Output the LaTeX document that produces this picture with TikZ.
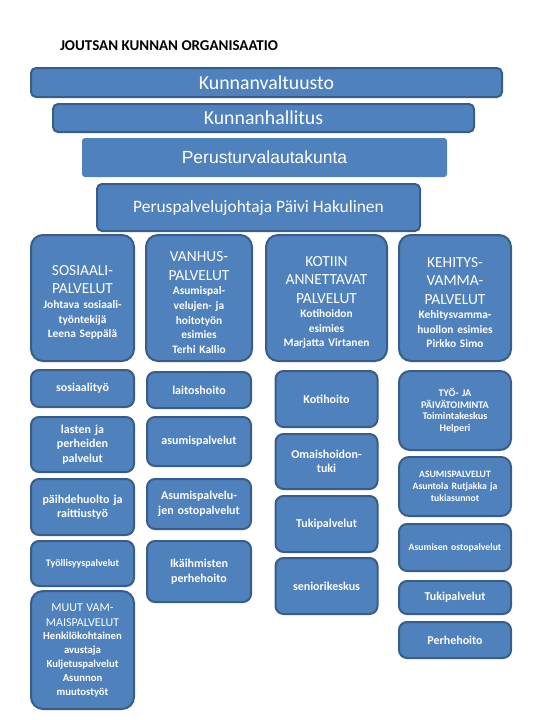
\documentclass[tikz,border=0pt]{standalone}
\usepackage{fontspec}
\setmainfont{Carlito}
\newfontfamily\arialfont{Liberation Sans}
\usetikzlibrary{positioning}
\definecolor{boxblue}{RGB}{79,129,189}
\definecolor{boxline}{RGB}{56,93,138}
\newcommand\hdf{\fontsize{15.4}{18.5}\selectfont\mdseries}
\newcommand\smf{\fontsize{11.4}{14.6}\selectfont\bfseries}
\newcommand\mcap{\fontsize{12}{15}\selectfont\mdseries}
\newcommand\msub{\fontsize{10.7}{13.8}\selectfont\bfseries}

\begin{document}
\begin{tikzpicture}[x=1pt,y=-1pt,
    box/.style={rectangle,draw=boxline,line width=2pt,fill=boxblue,text=white,rounded corners=5pt,inner sep=1pt,align=center},
    top/.style={box,font=\fontsize{19.8}{22}\selectfont},
    head/.style={box,rounded corners=12pt,minimum height=126pt,font=\smf,execute at begin node={\rule{0pt}{19pt}}},
    item/.style={box,rounded corners=8pt,font=\fontsize{12}{14.5}\selectfont\bfseries},
    c1/.style={item,minimum width=103pt,text width=101pt},
    c2/.style={item,minimum width=104pt,text width=102pt},
    c3/.style={item,minimum width=102pt,text width=100pt},
    c4/.style={item,minimum width=112pt,text width=110pt},
]
\useasboundingbox (0,0) rectangle (540,720);

\node[font=\fontsize{15}{17}\selectfont\bfseries] (title) at (169,46) {JOUTSAN KUNNAN ORGANISAATIO};

\node[top,minimum width=471pt,minimum height=29pt] (valt) at (266.5,82.5) {Kunnanvaltuusto};
\node[top,minimum width=421pt,minimum height=28pt] (hall) at (263.5,118) {Kunnanhallitus};
\node[box,draw=none,rounded corners=3pt,minimum width=365pt,minimum height=39pt,font=\arialfont\fontsize{17.5}{20}\selectfont] (ptl) at (264.5,157.5) {Perusturvalautakunta};
\node[box,minimum width=323pt,minimum height=47pt,font=\fontsize{17.4}{20}\selectfont] (johtaja) at (258.5,207.5) {Peruspalvelujohtaja Päivi Hakulinen};

\node[head,minimum width=103pt,text width=101pt] (sos) at (82.5,298) {\hdf SOSIAALI-\\\hdf PALVELUT\\\smf Johtava sosiaali-\\työntekijä\\Leena Seppälä};
\node[head,minimum width=106pt,text width=104pt] (van) at (199,298) {\hdf VANHUS-\\\hdf PALVELUT\\\smf Asumispal-\\velujen- ja\\hoitotyön\\esimies\\Terhi Kallio};
\node[head,minimum width=121pt,text width=119pt] (koti) at (326.5,298) {\hdf KOTIIN\\\hdf ANNETTAVAT\\\hdf PALVELUT\\\smf Kotihoidon\\esimies\\Marjatta Virtanen};
\node[head,minimum width=112pt,text width=110pt] (keh) at (455,298) {\hdf KEHITYS-\\\hdf VAMMA-\\\hdf PALVELUT\\\smf Kehitysvamma-\\huollon esimies\\Pirkko Simo};

\node[c1,minimum height=37pt,below=7pt of sos] (s1) {sosiaalityö};
\node[c1,minimum height=55pt,below=8pt of s1] (s2) {lasten ja\\perheiden\\palvelut};
\node[c1,minimum height=56pt,below=5pt of s2] (s3) {päihdehuolto ja\\raittiustyö};
\node[c1,minimum height=45pt,below=4pt of s3,font=\fontsize{10}{12}\selectfont\bfseries] (s4) {Työllisyyspalvelut};
\node[c1,rounded corners=12pt,minimum height=118pt,below=3pt of s4,font=\msub] (s5) {\mcap MUUT VAM-\\\mcap MAISPALVELUT\\\msub Henkilökohtainen\\avustaja\\Kuljetuspalvelut\\Asunnon\\muutostyöt};

\node[c2,minimum height=36pt,below=9pt of van] (v1) {laitoshoito};
\node[c2,minimum height=49pt,below=7pt of v1] (v2) {asumispalvelut};
\node[c2,minimum height=50pt,below=11pt of v2] (v3) {Asumispalvelu-\\jen ostopalvelut};
\node[c2,minimum height=61pt,below=10pt of v3] (v4) {Ikäihmisten\\perhehoito};

\node[c3,minimum height=56pt,below=8pt of koti] (k1) {Kotihoito};
\node[c3,minimum height=55pt,below=5pt of k1] (k2) {Omaishoidon-\\tuki};
\node[c3,minimum height=56pt,below=5pt of k2] (k3) {Tukipalvelut};
\node[c3,minimum height=56pt,below=4pt of k3] (k4) {seniorikeskus};

\node[c4,rounded corners=11pt,minimum height=79pt,below=8pt of keh,font=\fontsize{10.2}{11.7}\selectfont\bfseries] (h1) {TYÖ- JA\\PÄIVÄTOIMINTA\\Toimintakeskus\\Helperi};
\node[c4,rounded corners=10pt,minimum height=59pt,below=5pt of h1,font=\fontsize{9.7}{12}\selectfont\bfseries] (h2) {ASUMISPALVELUT\\Asuntola Rutjakka ja\\tukiasunnot};
\node[c4,minimum height=47pt,below=6pt of h2,font=\fontsize{9.7}{12}\selectfont\bfseries] (h3) {Asumisen ostopalvelut};
\node[c4,minimum height=33pt,below=8pt of h3] (h4) {Tukipalvelut};
\node[c4,minimum height=36pt,below=6pt of h4] (h5) {Perhehoito};
\end{tikzpicture}
\end{document}
